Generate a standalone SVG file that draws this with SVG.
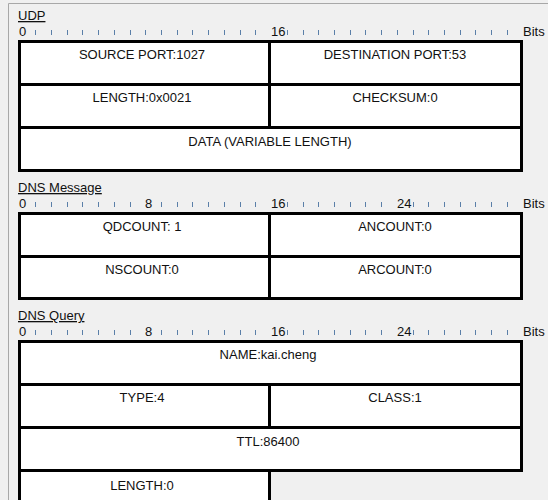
<svg xmlns="http://www.w3.org/2000/svg" width="548" height="500" viewBox="0 0 548 500">
<style>
text{font-family:"Liberation Sans",Arial,sans-serif;font-size:13px;fill:#111}
.c{text-anchor:middle}
.title{text-decoration:underline}
.cell{fill:#fff;stroke:#000;stroke-width:3}
.tick{stroke:#5b7fa8;stroke-width:1;fill:none}
.frame{stroke:#a8a8a8;stroke-width:1;fill:none}
</style>
<defs>
<path id="ticks" class="tick" d="M35.5 0v-5M51.5 0v-5M67.5 0v-5M82.5 0v-5M98.5 0v-5M114.5 0v-5M130.5 0v-5M161.5 0v-5M177.5 0v-5M192.5 0v-5M208.5 0v-5M224.5 0v-5M240.5 0v-5M255.5 0v-5M287.5 0v-5M303.5 0v-5M318.5 0v-5M334.5 0v-5M350.5 0v-5M365.5 0v-5M381.5 0v-5M413.5 0v-5M428.5 0v-5M444.5 0v-5M460.5 0v-5M475.5 0v-5M491.5 0v-5M507.5 0v-5"/>
<path id="ticks824" class="tick" d="M145.5 0v-5M397.5 0v-5"/>
</defs>
<rect width="548" height="500" fill="#f0f0f0"/>
<path class="frame" d="M8.5 500V3.5H548"/>

<g id="udp">
<text class="title" x="18" y="20">UDP</text>
<g id="udp-ruler">
<text x="19" y="36">0</text><text x="271" y="36">16</text><text x="523" y="36">Bits</text>
<use href="#ticks" y="35"/><use href="#ticks824" y="35"/>
</g>
<g id="udp-source"><rect class="cell" x="19.5" y="41.5" width="250" height="43"/><text class="c" x="142" y="59">SOURCE PORT:1027</text></g>
<g id="udp-dest"><rect class="cell" x="269.5" y="41.5" width="252" height="43"/><text class="c" x="395" y="59">DESTINATION PORT:53</text></g>
<g id="udp-length"><rect class="cell" x="19.5" y="84.5" width="250" height="43"/><text class="c" x="142" y="102">LENGTH:0x0021</text></g>
<g id="udp-checksum"><rect class="cell" x="269.5" y="84.5" width="252" height="43"/><text class="c" x="395" y="102">CHECKSUM:0</text></g>
<g id="udp-data"><rect class="cell" x="19.5" y="127.5" width="502" height="43"/><text class="c" x="270" y="146">DATA (VARIABLE LENGTH)</text></g>
</g>

<g id="dns-message">
<text class="title" x="18" y="192">DNS Message</text>
<g id="dns-message-ruler">
<text x="19" y="208">0</text><text x="145" y="208">8</text><text x="271" y="208">16</text><text x="397" y="208">24</text><text x="523" y="208">Bits</text>
<use href="#ticks" y="207"/>
</g>
<g id="qdcount"><rect class="cell" x="19.5" y="213.5" width="250" height="43"/><text class="c" x="142" y="231">QDCOUNT: 1</text></g>
<g id="ancount"><rect class="cell" x="269.5" y="213.5" width="252" height="43"/><text class="c" x="395" y="231">ANCOUNT:0</text></g>
<g id="nscount"><rect class="cell" x="19.5" y="256.5" width="250" height="42"/><text class="c" x="142" y="274">NSCOUNT:0</text></g>
<g id="arcount"><rect class="cell" x="269.5" y="256.5" width="252" height="42"/><text class="c" x="395" y="274">ARCOUNT:0</text></g>
</g>

<g id="dns-query">
<text class="title" x="18" y="320">DNS Query</text>
<g id="dns-query-ruler">
<text x="19" y="336">0</text><text x="145" y="336">8</text><text x="271" y="336">16</text><text x="397" y="336">24</text><text x="523" y="336">Bits</text>
<use href="#ticks" y="335"/>
</g>
<g id="name"><rect class="cell" x="19.5" y="341.5" width="502" height="43"/><text class="c" x="268" y="359">NAME:kai.cheng</text></g>
<g id="type"><rect class="cell" x="19.5" y="384.5" width="250" height="43"/><text class="c" x="142" y="402">TYPE:4</text></g>
<g id="class"><rect class="cell" x="269.5" y="384.5" width="252" height="43"/><text class="c" x="395" y="402">CLASS:1</text></g>
<g id="ttl"><rect class="cell" x="19.5" y="427.5" width="502" height="43"/><text class="c" x="268" y="446">TTL:86400</text></g>
<g id="rdlength"><rect class="cell" x="19.5" y="470.5" width="250" height="43"/><text class="c" x="142" y="490">LENGTH:0</text></g>
</g>
</svg>
